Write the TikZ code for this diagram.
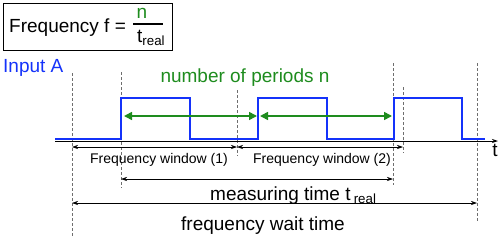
\documentclass[tikz,border=0pt]{standalone}
\usepackage{fontspec}
\setmainfont{Liberation Sans}
\usepackage{xcolor}
\definecolor{sigblue}{RGB}{20, 50, 250}
\definecolor{pergreen}{RGB}{30, 140, 30}
\definecolor{markgray}{RGB}{110, 110, 110}
\usetikzlibrary{arrows.meta,calc}

\begin{document}
\begin{tikzpicture}[x=1pt,y=-1pt,
    bigtext/.style={font=\fontsize{19}{22}\selectfont, inner sep=0pt},
    smalltext/.style={font=\fontsize{14}{16}\selectfont, inner sep=0pt},
    marker/.style={markgray, densely dashed, line width=0.6pt},
    dimarrow/.style={{Stealth[length=6pt,width=4pt]}-{Stealth[length=6pt,width=4pt]}, line width=0.6pt},
    periodarrow/.style={pergreen, line width=1.6pt, {Triangle[length=8pt,width=8pt]}-{Triangle[length=8pt,width=8pt]}}]
    \useasboundingbox (0,0) rectangle (503,236);

    % Formula box
    \draw[line width=1pt] (3,3) rectangle (172,50);
    \node[bigtext, anchor=base west] (freqlabel) at (9,32) {Frequency f =};
    \node[bigtext, anchor=base, pergreen] (num) at (142,18) {n};
    \node[bigtext, anchor=base west] (den) at (137,42) {t\textsubscript{real}};
    \draw[line width=1.2pt] (133,24) -- (163,24);

    \node[bigtext, anchor=base west, sigblue] (input) at (3,72) {Input A};

    % Dashed markers
    \foreach \name/\x/\top/\bot in {gA/72/73/236, gB/121/72/188, gC/237/90/156,
                                   gD/393/63/185, gE/403/87/153, gF/477/63/222} {
        \coordinate (\name) at (\x,\top);
        \draw[marker] (\x,\top) -- (\x,\bot);
    }

    % Levels of the arrows
    \coordinate (yper) at (0,116);
    \coordinate (ywin) at (0,147);
    \coordinate (ymeas) at (0,179);
    \coordinate (ywait) at (0,203);

    % Time axis
    \coordinate (tstart) at (55,141);
    \coordinate (tend) at (498,141);
    \draw[line width=0.8pt, -{Stealth[length=6pt,width=4pt]}] (tstart) -- (tend);
    \node[bigtext, anchor=base] (taxis) at (495,156) {t};

    % Input signal
    \coordinate (rise1) at (121,98);
    \coordinate (rise2) at (258,98);
    \coordinate (rise3) at (394,98);
    \draw[sigblue, line width=2.4pt]
        (55,139) -- (121,139) -- (121,98) -- (190,98) -- (190,139)
        -- (258,139) -- (258,98) -- (327,98) -- (327,139)
        -- (394,139) -- (394,98) -- (462,98) -- (462,139) -- (485,139);

    % Number of periods
    \draw[periodarrow, shorten <=3pt, shorten >=1pt] (rise1 |- yper) -- (rise2 |- yper);
    \draw[periodarrow, shorten <=2pt, shorten >=2pt] (rise2 |- yper) -- (rise3 |- yper);
    \node[bigtext, anchor=base, pergreen] (nperiods) at (245,82) {number of periods n};

    % Frequency windows
    \draw[dimarrow] (gA |- ywin) -- (gC |- ywin);
    \draw[dimarrow] (gC |- ywin) -- (gE |- ywin);
    \node[smalltext, anchor=base] (win1) at (159,163) {Frequency window (1)};
    \node[smalltext, anchor=base] (win2) at (322,163) {Frequency window (2)};

    % Measuring time
    \draw[dimarrow] (gB |- ymeas) -- (gD |- ymeas);
    \node[bigtext, anchor=base west] (meas) at (210,200) {measuring time t\,\textsubscript{real}};

    % Wait time
    \draw[dimarrow] (gA |- ywait) -- (gF |- ywait);
    \node[bigtext, anchor=base] (wait) at (263,230) {frequency wait time};
\end{tikzpicture}
\end{document}
